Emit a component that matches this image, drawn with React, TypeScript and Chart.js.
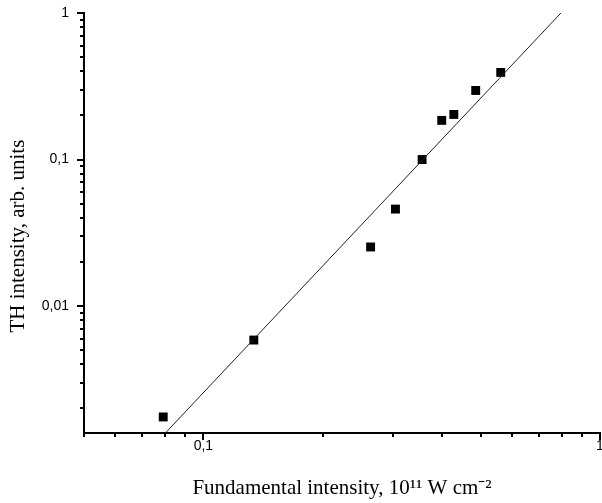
import React, { useEffect, useRef } from "react";
import { Chart, registerables } from "chart.js";

Chart.register(...registerables);

// Measured data (fundamental intensity, 10^11 W cm^-2 ; TH intensity, arb. units)
const fundamentalIntensity = [0.0792, 0.134, 0.264, 0.305, 0.356, 0.399, 0.428, 0.486, 0.562];
const thIntensity = [0.00175, 0.00586, 0.0253, 0.0459, 0.1, 0.185, 0.203, 0.296, 0.393];

// Fitted power-law line end points
const fitX = [0.0802, 0.797];
const fitY = [0.00136, 1];

// Axis ranges
const xRange = [0.05, 1];
const yRange = [0.00136, 1];

const xTitle = "Fundamental intensity, 10\u00B9\u00B9 W cm\u207B\u00B2";
const yTitle = "TH intensity, arb. units";

function isDecade(v: number) {
  const l = Math.log10(v);
  return Math.abs(l - Math.round(l)) < 1e-6;
}
function fmt(v: number) {
  if (!isDecade(v)) return "";
  const n = Number(v.toPrecision(1));
  return String(n).replace(".", ",");
}

const tickPlugin = {
  id: "logTicks",
  afterDraw(chart: any) {
    const ctx = chart.ctx;
    const area = chart.chartArea;
    ctx.save();
    ctx.strokeStyle = "#000";
    ctx.lineWidth = 2;
    const xs = chart.scales.x;
    for (const t of xs.ticks) {
      const v = t.value;
      const e = Math.pow(10, Math.floor(Math.log10(v) + 1e-9));
      const m = v / e;
      if (Math.abs(m - Math.round(m)) > 1e-6) continue;
      const len = Math.round(m) === 1 ? 7 : 4;
      const px = Math.round(xs.getPixelForValue(v));
      ctx.beginPath();
      ctx.moveTo(px, area.bottom);
      ctx.lineTo(px, area.bottom + len);
      ctx.stroke();
    }
    const ys = chart.scales.y;
    for (const t of ys.ticks) {
      const v = t.value;
      const e = Math.pow(10, Math.floor(Math.log10(v) + 1e-9));
      const m = v / e;
      if (Math.abs(m - Math.round(m)) > 1e-6) continue;
      const len = Math.round(m) === 1 ? 7 : 4;
      const py = Math.round(ys.getPixelForValue(v));
      ctx.beginPath();
      ctx.moveTo(area.left - len, py);
      ctx.lineTo(area.left, py);
      ctx.stroke();
    }
    ctx.restore();
  },
};

export default function App() {
  const ref = useRef<HTMLCanvasElement | null>(null);
  useEffect(() => {
    if (!ref.current) return;
    const chart = new Chart(ref.current, {
      type: "scatter",
      data: {
        datasets: [
          {
            label: "fit",
            data: fitX.map((x, i) => ({ x, y: fitY[i] })),
            showLine: true,
            borderColor: "#222",
            borderWidth: 1,
            pointRadius: 0,
            fill: false,
          },
          {
            label: "TH",
            data: fundamentalIntensity.map((x, i) => ({ x, y: thIntensity[i] })),
            pointStyle: "rect",
            pointRadius: 6.3,
            backgroundColor: "#000",
            borderColor: "#000",
            borderWidth: 0,
          },
        ],
      },
      options: {
        responsive: false,
        animation: false,
        layout: { autoPadding: false, padding: { top: 13, right: 2, left: 0, bottom: 0 } },
        plugins: { legend: { display: false }, tooltip: { enabled: false } },
        scales: {
          x: {
            type: "logarithmic",
            position: "bottom",
            min: xRange[0],
            max: xRange[1],
            grid: { display: false, drawTicks: false },
            border: { display: true, color: "#000", width: 2 },
            ticks: {
              autoSkip: false,
              maxRotation: 0,
              minRotation: 0,
              padding: 5,
              color: "#000",
              font: { family: "'Liberation Sans', Arial, sans-serif", size: 14 },
              callback: (v: any) => fmt(Number(v)),
            },
            title: {
              display: true,
              text: xTitle,
              color: "#000",
              font: { family: "'Liberation Serif', 'Times New Roman', serif", size: 21 },
              padding: { top: 0, bottom: 2 },
            },
            afterFit: (s: any) => {
              s.height = 70;
              s.paddingLeft = 0;
              s.paddingRight = 0;
            },
          },
          y: {
            type: "logarithmic",
            position: "left",
            min: yRange[0],
            max: yRange[1],
            grid: { display: false, drawTicks: false },
            border: { display: true, color: "#000", width: 2 },
            ticks: {
              autoSkip: false,
              padding: 15,
              color: "#000",
              font: { family: "'Liberation Sans', Arial, sans-serif", size: 14 },
              callback: (v: any) => fmt(Number(v)),
            },
            title: {
              display: true,
              text: yTitle + "     ",
              color: "#000",
              font: { family: "'Liberation Serif', 'Times New Roman', serif", size: 21 },
              padding: { top: 6, bottom: 0 },
            },
            afterFit: (s: any) => {
              s.width = 84;
              s.paddingTop = 0;
              s.paddingBottom = 0;
            },
          },
        },
      },
      plugins: [tickPlugin],
    });
    return () => chart.destroy();
  }, []);
  return (
    <div style={{ position: "fixed", left: 0, top: 0, width: 602, height: 503, background: "#fff" }}>
      <canvas ref={ref} width={602} height={503} style={{ display: "block" }} />
    </div>
  );
}
